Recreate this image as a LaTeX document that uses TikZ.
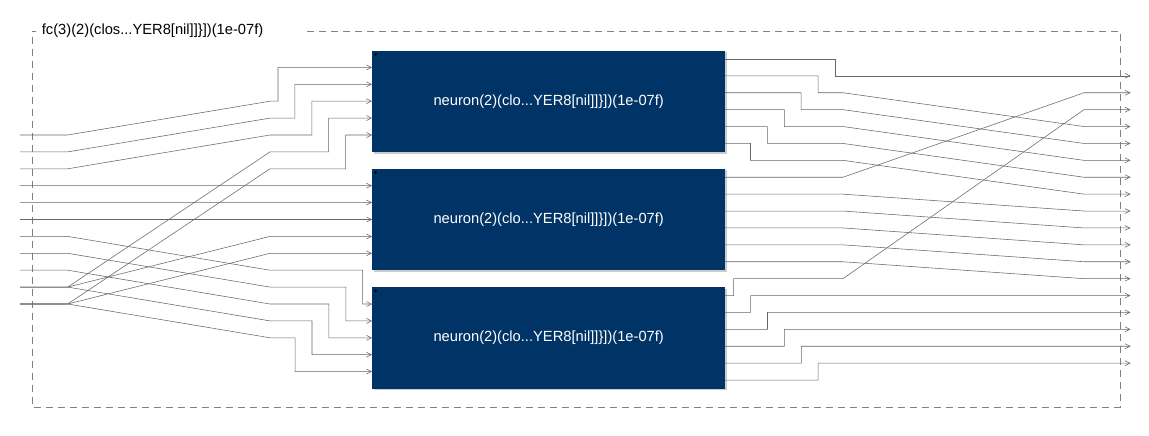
\documentclass[tikz,border=0pt]{standalone}
\usepackage{fontspec}
\setmainfont{Liberation Sans}
\usetikzlibrary{arrows.meta}
\definecolor{navy}{HTML}{003366}
\definecolor{wire}{HTML}{666666}
\definecolor{frame}{HTML}{808080}
\begin{document}
\begin{tikzpicture}[x=1pt,y=-1pt,
  wirestyle/.style={draw=wire, line width=0.55pt},
  arr/.style={wirestyle, -{Straight Barb[length=5pt,width=5pt,line width=0.55pt]}},
  nbox/.style={fill=navy, minimum width=353pt, minimum height=101.4pt, inner sep=0pt,
    text=white, font=\fontsize{14.7}{17}\selectfont, anchor=north west},
  boxshadow/.style={fill=black!20},
  framestyle/.style={draw=frame, line width=0.7pt, dash pattern=on 7pt off 5pt},
  titlestyle/.style={anchor=west, inner sep=0pt, font=\fontsize{14.7}{17}\selectfont}
]
\useasboundingbox (0,0) rectangle (1149,436);
% frame
\draw[framestyle] (307,31) -- (1120,31) -- (1120,407) -- (32,407) -- (32,31) -- (36,31);
\node[titlestyle] (title) at (41.7,31) {fc(3)(2)(clos...YER8[nil]]\}])(1e-07f)};
% boxes
\foreach \k in {0,1,2} {
  \pgfmathsetmacro\T{50.5+118.3*\k}
  \fill[boxshadow] (373.5,\T+1.5) rectangle (727,\T+103);
  \node[nbox] (n\k) at (372,\T) {neuron(2)(clo...YER8[nil]]\}])(1e-07f)};
  \fill[black] (375.6,\T+3.8) circle (1.5);
  \foreach \j in {0,...,4} {
    \coordinate (n\k i\j) at (372,{\T+16.9*(\j+1)});
  }
  \foreach \j in {0,...,5} {
    \coordinate (n\k o\j) at (725,{\T+16.9*(\j+0.5)});
  }
}
% fc inputs and outputs
\foreach \i in {0,...,10} {
  \coordinate (in\i) at (20,{50.5+16.9*(\i+5)});
}
\foreach \m in {0,...,17} {
  \coordinate (out\m) at (1130.5,{50.5+16.9*(\m+1.5)});
}
% left wiring, neuron 0
\foreach \j/\i in {0/0,1/1,2/2,3/9,4/10} {
  \pgfmathsetmacro\yr{50.5+16.9*(\j+3)}
  \pgfmathsetmacro\xs{278+16.9*\j}
  \draw[arr] (in\i) -- ([xshift=47.7pt]in\i) -- (270,\yr) -- (\xs,\yr) |- (n0i\j);
}
% left wiring, neuron 1
\foreach \j/\i in {0/3,1/4,2/5,3/9,4/10} {
  \pgfmathsetmacro\yr{50.5+118.3+16.9*(\j+1)}
  \draw[arr] (in\i) -- ([xshift=47.7pt]in\i) -- (270,\yr) -- (n1i\j);
}
% left wiring, neuron 2
\foreach \j/\i in {0/6,1/7,2/8,3/9,4/10} {
  \pgfmathsetmacro\yr{50.5+236.6+16.9*(\j-1)}
  \pgfmathsetmacro\xs{362.7-16.9*\j}
  \draw[arr] (in\i) -- ([xshift=47.7pt]in\i) -- (270,\yr) -- (\xs,\yr) |- (n2i\j);
}
% right wiring, neuron 0
\foreach \j/\m in {0/0,1/3,2/4,3/5,4/6,5/7} {
  \pgfmathsetmacro\yd{50.5+16.9*(\j+1.5)}
  \pgfmathsetmacro\xs{835-16.9*\j}
  \draw[arr] (n0o\j) -| (\xs,\yd) -- (843,\yd) -- ([xshift=-46.5pt]out\m) -- (out\m);
}
% right wiring, neuron 1
\foreach \j/\m in {0/1,1/8,2/9,3/10,4/11,5/12} {
  \draw[arr] (n1o\j) -- ([xshift=118pt]n1o\j) -- ([xshift=-46.5pt]out\m) -- (out\m);
}
% right wiring, neuron 2
\foreach \j/\m in {0/2,1/13,2/14,3/15,4/16,5/17} {
  \pgfmathsetmacro\yu{50.5+236.6+16.9*(\j-0.5)}
  \pgfmathsetmacro\xs{733.7+16.9*\j}
  \draw[arr] (n2o\j) -| (\xs,\yu) -- (843,\yu) -- ([xshift=-46.5pt]out\m) -- (out\m);
}
\end{tikzpicture}
\end{document}
